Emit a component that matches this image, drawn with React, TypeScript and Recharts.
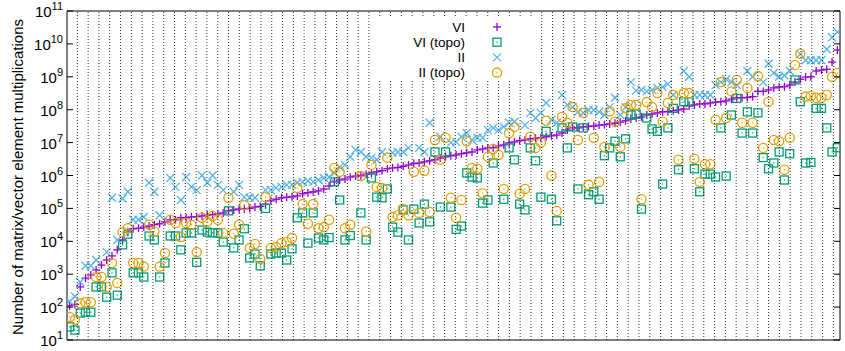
import { ScatterChart, Scatter, XAxis, YAxis } from "recharts";

// instances sorted by VI cost; one entry per instance (null = not visible)
const VI = [
  1.1e2, 1.2e2, 4.1e2, 7.6e2, 9.5e2, 1.35e3, 1.9e3, 2.7e3, 3.6e3, 5.5e3,
  1.1e4, 1.9e4, 2.4e4, 2.5e4, 2.7e4, 2.9e4, 3.2e4, 3.4e4, 3.9e4, 4.5e4,
  4.5e4, 5.2e4, 5.2e4, 5.5e4, 5.6e4, 5.9e4, 6.3e4, 6.4e4, 6.8e4, 7.3e4,
  8.4e4, 9e4, 9.6e4, 9.7e4, 1.0e5, 1.1e5, 1.15e5, 1.35e5, 1.7e5, 1.9e5,
  2.1e5, 2.2e5, 2.25e5, 2.4e5, 2.8e5, 3e5, 3.2e5, 3.4e5, 3.9e5, 4.8e5,
  6.4e5, 7.3e5, 7.8e5, 9e5, 9.6e5, 9.8e5, 1.1e6, 1.2e6, 1.3e6, 1.4e6,
  1.6e6, 1.7e6, 1.75e6, 1.9e6, 2.1e6, 2.3e6, 2.4e6, 2.6e6, 2.8e6, 3e6,
  3.4e6, 3.7e6, 4e6, 4.2e6, 4.6e6, 4.9e6, 5.2e6, 6e6, 6.4e6, 6.9e6,
  7e6, 7.9e6, 8.5e6, 9.8e6, 1.05e7, 1.15e7, 1.2e7, 1.3e7, 1.35e7, 1.4e7,
  1.5e7, 1.6e7, 1.7e7, 1.95e7, 2.4e7, 2.8e7, 2.8e7, 3e7, 3.1e7, 3.2e7,
  3.4e7, 3.5e7, 3.7e7, 3.9e7, 4.2e7, 4.6e7, 5.2e7, 5.6e7, 6e7, 6.9e7,
  7.4e7, 8e7, 8.6e7, 8.8e7, 9.3e7, 9.8e7, 1.05e8, 1.3e8, 1.4e8, 1.5e8,
  1.5e8, 1.6e8, 1.7e8, 1.75e8, 1.85e8, 2.1e8, 2.3e8, 2.3e8, 2.35e8, 2.5e8,
  3.6e8, 3.6e8, 4e8, 4.6e8, 4.9e8, 5e8, 5.6e8, 6.9e8, 8.4e8, 9.8e8,
  1e9, 1.5e9, 1.6e9, 1.7e9, 2.8e9, 6.5e9,
];

const VI_TOPO = [
  25, 20, 66, 70, 70, 410, 410, 200, 1.1e3, 230,
  7.8e3, 1.65e4, 1.1e3, 1.1e3, 820, 1.45e4, 1.1e4, 820, 2.2e3, 1.45e4,
  1.45e4, 5.5e3, 1.8e4, 1.8e4, 2.3e3, 2.2e4, 1.9e4, 1.8e4, 1.8e4, 9.5e3,
  8.4e4, 6.3e3, 1.1e4, 2.4e4, 3.1e3, 4.1e3, 1.8e3, 1e5, 4.1e3, 4.4e3,
  4.4e3, 2.7e3, 5.9e3, 5.2e4, 7.3e4, 8.8e3, 7.3e4, 1.26e4, 1.1e4, 1.3e4,
  6.4e5, 1.8e5, 1.1e4, 1.5e4, null, 7.3e4, 1.1e4, 8.4e5, 2.2e5, 2.1e5,
  3.9e5, 2.7e4, 1.9e4, 9e4, 1.1e4, 9.5e4, 3.6e4, 1.35e5, 3.9e4, 5.2e6,
  1.1e5, 5.2e6, 1.1e5, 2.3e4, 2.9e4, 1.2e6, 9e5, 8.4e5, 1.45e5, 1.8e5,
  2.4e6, null, 1.9e5, 6.9e6, 3e6, 1.35e5, 9e4, 6.9e6, 2.8e6, 2.2e5,
  2.2e7, 1.9e5, 4.2e4, 2.8e7, 6.9e6, 3e7, 3.9e5, 2.8e7, 2.6e5, 3.2e5,
  1.9e5, 4e6, 6.9e6, 1.1e7, 3.7e6, 1.3e7, 6.9e7, 7.4e7, 9.5e4, 5.6e7,
  2.6e7, 2.2e7, 5.5e5, 2.8e7, 1.1e8, 1.5e6, 1.75e8, 1.75e8, 1.6e6, 3.2e5,
  1.1e6, 1.1e6, 9e5, 2.8e7, 9.6e5, 6.9e7, 2.2e8, 1.95e7, 8.6e7, 1.95e7,
  8e7, 3.5e6, 1.6e6, 2.4e6, 5.2e6, 7.3e5, 4.6e6, 8e8, 1.75e8, 2.4e6,
  2.5e6, 1.1e8, 1.1e8, 2.8e7, 5.2e6, 7e6,
];

const II = [
  150, 210, 580, 1.8e3, 1.8e3, 2.7e3, null, 4.7e3, 2.1e5, 1.1e4,
  2e5, 3.2e5, 4.5e4, 4.5e4, 5.5e4, 6e5, 3.2e5, 6.2e4, null, 8.4e5,
  4.5e5, 1.8e5, 9e5, 4.5e5, 3.6e5, 1e6, 6e5, 1e6, 5.2e5, 3.6e5,
  null, 3.2e5, 5.2e5, 2.2e5, 2.1e5, 2.1e5, null, 3.6e5, 3.6e5, 4.2e5,
  4.5e5, 5.2e5, 5.2e5, 6e5, 6.4e5, 6.8e5, 6.4e5, 7.3e5, 8.4e5, 9e5,
  1.2e6, 1.8e6, 2.1e6, 3.7e6, 6e6, 5.2e6, 3.7e6, 3.5e6, 3e6, 5.2e6,
  null, 4.9e6, 5.2e6, 5.2e6, 6.9e6, null, 6.9e6, 5.2e6, 4e7, null,
  1.5e7, null, 1e7, 1.05e7, 1.5e7, 1.95e7, 1.2e7, 1.4e7, 1.4e7, 2.4e7,
  2.8e7, 2.4e7, 3e7, 4e7, 4.3e7, null, 3.4e7, 8e7, 5.6e7, 8e7,
  1.6e8, 4.9e7, 4e7, 2.8e8, 1.4e8, 1.2e8, 8.6e7, 8e7, 9.8e7, 9.8e7,
  8.6e7, 6.9e7, 1.2e8, 2.3e8, 6.9e7, 1.2e8, 6.9e8, 3.8e8, 4e8, 3.6e8,
  4e8, 4.6e8, 4.9e8, 6e8, 2.8e8, null, 1.5e9, 1e9, 2.8e8, 2.8e8,
  2.8e8, 2.8e8, 5.6e8, 6.9e8, 8.4e8, 6.9e8, 5.6e8, null, 1.5e9, 1e9,
  null, 6.9e8, 2.5e9, 1.3e9, 1e9, 1.1e9, 1.5e9, null, 4.9e9, 3.2e9,
  3.2e9, 3.2e9, 3.2e9, 6.9e9, 1.6e10, 2.3e10,
];

const II_TOPO = [
  50, 41, 130, 140, 140, 820, 820, 410, 2.2e3, 540,
  1.9e4, 2.5e4, 2.2e3, 2.2e3, 1.7e3, 3.2e4, 2e4, 1.7e3, 4.4e3, 4.5e4,
  3.6e4, 1.35e4, 3.6e4, 3.2e4, 4.7e3, 5.2e4, 3.9e4, 5.9e4, 4.5e4, 1.8e4,
  2.1e5, 1.7e4, 3.2e4, 1.26e5, 6.3e3, 8.3e3, 2.9e3, 2.2e5, 6.3e3, 6.7e3,
  8.8e3, 9.5e3, 1.26e4, 4.2e5, 1.35e5, 3.4e4, 1.35e5, 2.5e4, 2.7e4, 4.5e4,
  1.7e6, 1.3e6, 2.5e4, 3.2e4, null, 9.6e5, 2e4, 2.1e6, 4.5e5, 4.2e5,
  3.5e6, 5.5e4, 6.2e4, 9.6e4, 6.2e4, 1.3e6, 7.3e4, 1.4e6, 7.8e4, 1.2e7,
  3e6, 1.4e7, 2.1e5, 5.2e4, 1.8e5, 1.1e7, 1.7e6, 1.6e6, 2.9e5, 3.7e6,
  6.4e6, 4.2e6, 3.9e5, 1.95e7, 3e7, 2.8e5, 3.9e5, 1.5e7, 6.9e6, 1e7,
  4.6e7, 1e6, 8.4e4, 6e7, 4e7, 1.2e8, 1.2e7, 8e7, 5.2e5, 1.4e7,
  6.4e5, 7.4e6, 9e7, 4.3e7, 7.4e6, 1.1e8, 1.4e8, 1.4e8, 1.9e5, 1.7e8,
  1.2e8, 3.2e8, 4.3e7, 1.6e8, 2.8e8, 3e6, 3.2e8, 3.2e8, 3.2e6, 6.4e5,
  2.2e6, 2.2e6, 4.9e7, 6.9e8, 5.6e7, 3.6e8, 8e8, 4e7, 4.6e8, 4e7,
  1.05e9, 6.9e6, 1.75e8, 1.2e7, 1.1e7, 1.5e6, 1.4e7, 2.3e9, 5e9, 2.5e8,
  2.6e8, 2.3e8, 2.3e8, 2.8e8, 1e9, 1.3e9,
];

const Y_TICKS = [1e1, 1e2, 1e3, 1e4, 1e5, 1e6, 1e7, 1e8, 1e9, 1e10, 1e11];
const X_DOMAIN = [-0.5, VI.length - 0.5];
// vertical dotted grid (gnuplot xtics)
const GRID_TICKS = Array.from({ length: 71 }, (_, k) => 1.45 + k * 2.04);

const CHART_W = 845;
const CHART_H = 351;
const MARGIN = { top: 10, right: 4, bottom: 10, left: 0 };
const PLOT_H = CHART_H - MARGIN.top - MARGIN.bottom - 2;

const PURPLE = "#9400d3";
const GREEN = "#009e73";
const BLUE = "#56b4e9";
const ORANGE = "#e69f00";
const FONT = "'Liberation Sans', Arial, sans-serif";

const toPoints = (vals: (number | null)[]) =>
  vals.map((y, i) => ({ x: i, y })).filter((p) => p.y != null);

const Plus = ({ cx, cy }: any) => (
  <g stroke={PURPLE} strokeWidth={1.3}>
    <line x1={cx - 4} x2={cx + 4} y1={cy} y2={cy} />
    <line x1={cx} x2={cx} y1={cy - 4} y2={cy + 4} />
  </g>
);

const Square = ({ cx, cy }: any) => (
  <g>
    <rect x={cx - 4} y={cy - 4} width={8} height={8} fill="none" stroke={GREEN} strokeWidth={1.3} />
    <rect x={cx - 0.6} y={cy - 0.6} width={1.2} height={1.2} fill={GREEN} />
  </g>
);

const Cross = ({ cx, cy }: any) => (
  <g stroke={BLUE} strokeWidth={1.3}>
    <line x1={cx - 4} x2={cx + 4} y1={cy - 4} y2={cy + 4} />
    <line x1={cx - 4} x2={cx + 4} y1={cy + 4} y2={cy - 4} />
  </g>
);

const Ring = ({ cx, cy }: any) => (
  <g>
    <circle cx={cx} cy={cy} r={4.6} fill="none" stroke={ORANGE} strokeWidth={1.3} />
    <rect x={cx - 0.6} y={cy - 0.6} width={1.2} height={1.2} fill={ORANGE} />
  </g>
);

// dotted vertical grid line drawn from each x tick up to the top border
const GridTick = ({ x, y }: any) => (
  <line x1={x} x2={x} y1={y} y2={y - PLOT_H} stroke="#333" strokeWidth={1} strokeDasharray="1 2" />
);

const LeftTick = ({ x, y, payload }: any) => {
  const exp = Math.round(Math.log10(payload.value));
  return (
    <g>
      <line x1={x} x2={x + 6} y1={y} y2={y} stroke="#000" strokeWidth={1} />
      <text x={x - 4} y={y + 6} textAnchor="end" fontSize={15} fontFamily={FONT} fill="#000">
        10<tspan dy={-7} fontSize={11}>{exp}</tspan>
      </text>
    </g>
  );
};

const RightTick = ({ x, y }: any) => (
  <line x1={x} x2={x - 6} y1={y} y2={y} stroke="#000" strokeWidth={1} />
);

const LEGEND = [
  { label: "VI", Shape: Plus },
  { label: "VI (topo)", Shape: Square },
  { label: "II", Shape: Cross },
  { label: "II (topo)", Shape: Ring },
];

export default function App() {
  return (
    <div style={{ width: CHART_W, height: CHART_H, position: "relative", background: "#fff" }}>
      <style>{`body{margin:0}`}</style>
      <ScatterChart width={CHART_W} height={CHART_H} margin={MARGIN}>
        <XAxis
          type="number"
          dataKey="x"
          domain={X_DOMAIN}
          ticks={GRID_TICKS}
          interval={0}
          allowDataOverflow
          height={1}
          tickSize={0}
          tickMargin={0}
          tickLine={false}
          tick={<GridTick />}
          axisLine={{ stroke: "#000", strokeWidth: 1 }}
        />
        <XAxis
          xAxisId="top"
          orientation="top"
          type="number"
          dataKey="x"
          domain={X_DOMAIN}
          allowDataOverflow
          height={1}
          tick={false}
          tickLine={false}
          axisLine={{ stroke: "#000", strokeWidth: 1 }}
        />
        <YAxis
          type="number"
          dataKey="y"
          scale="log"
          domain={[10, 1e11]}
          ticks={Y_TICKS}
          allowDataOverflow
          width={67}
          tickSize={0}
          tickMargin={0}
          tickLine={false}
          interval={0}
          tick={<LeftTick />}
          axisLine={{ stroke: "#000", strokeWidth: 1 }}
          label={{
            value: "Number of matrix/vector element multiplications",
            content: () => (
              <text
                x={17}
                y={177}
                transform="rotate(-90 17 177)"
                textAnchor="middle"
                dominantBaseline="central"
                fontSize={15}
                fontFamily={FONT}
                fill="#000"
              >
                Number of matrix/vector element multiplications
              </text>
            ),
          }}
        />
        <YAxis
          yAxisId="right"
          orientation="right"
          type="number"
          dataKey="y"
          scale="log"
          domain={[10, 1e11]}
          ticks={Y_TICKS}
          allowDataOverflow
          width={1}
          tickSize={0}
          tickMargin={0}
          tickLine={false}
          interval={0}
          tick={<RightTick />}
          axisLine={{ stroke: "#000", strokeWidth: 1 }}
        />
        <Scatter name="VI" data={toPoints(VI)} shape={Plus} isAnimationActive={false} />
        <Scatter name="VI (topo)" data={toPoints(VI_TOPO)} shape={Square} isAnimationActive={false} />
        <Scatter name="II" data={toPoints(II)} shape={Cross} isAnimationActive={false} />
        <Scatter name="II (topo)" data={toPoints(II_TOPO)} shape={Ring} isAnimationActive={false} />
      </ScatterChart>
      <svg width={161} height={64} style={{ position: "absolute", left: 376, top: 17 }}>
        <rect width={161} height={64} fill="#fff" />
        {LEGEND.map(({ label, Shape }, i) => (
          <g key={label}>
            <text
              x={89}
              y={14.5 + i * 15.2}
              textAnchor="end"
              fontSize={13.5}
              fontFamily={FONT}
              fill="#000"
            >
              {label}
            </text>
            <Shape cx={121} cy={10 + i * 15.2} />
          </g>
        ))}
      </svg>
    </div>
  );
}
